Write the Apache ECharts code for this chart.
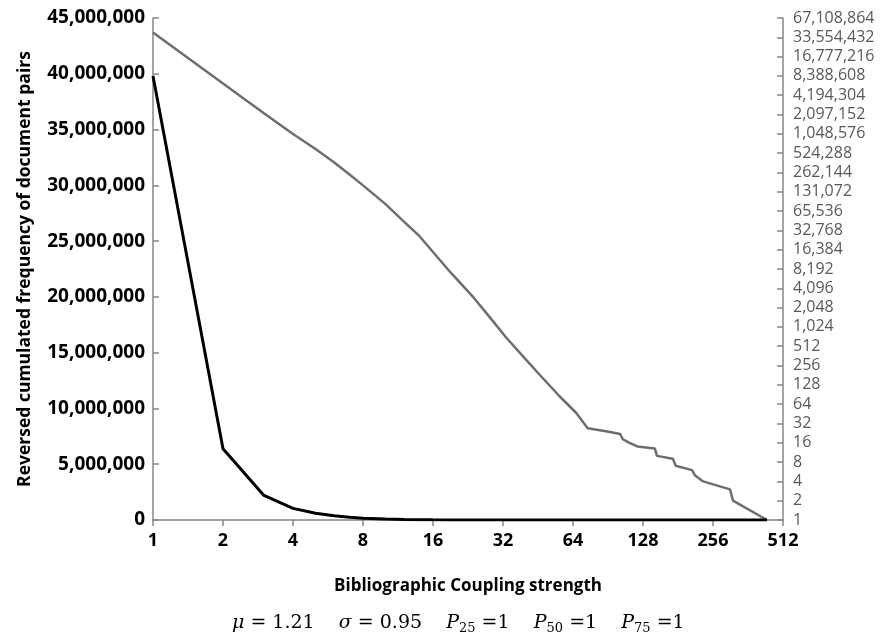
<!DOCTYPE html>
<html>
<head>
<meta charset="utf-8">
<script src="https://cdn.jsdelivr.net/npm/echarts@6/dist/echarts.min.js"></script>
<style>
html,body{margin:0;padding:0;background:#fff;}
#chart{width:888px;height:637px;}
</style>
</head>
<body>
<div id="chart"></div>
<script>
// Bibliographic coupling strength (x) and reversed cumulated frequency of document pairs
var strengths = [1, 2, 3, 4, 5, 6, 7, 8, 10, 12, 14, 16, 19, 24, 28, 33, 40, 46, 56, 66, 74, 90, 102, 105, 112, 121, 144, 147, 172, 177, 208, 214, 232, 303, 312, 437];
var counts = [39800000, 6380000, 2200000, 1040000, 610000, 379000, 243000, 165000, 84000, 45000, 26600, 15100, 7300, 2900, 1470, 700, 323, 184, 85, 47, 27, 24, 22, 18, 16, 14, 13, 10, 9, 7, 6, 5, 4, 3, 2, 1];

var xTicks = [1, 2, 4, 8, 16, 32, 64, 128, 256, 512];
var leftMax = 45000000, leftStep = 5000000;
var rightMax = 67108864;
var xTitle = 'Bibliographic Coupling strength';
var yTitle = 'Reversed cumulated frequency of document pairs';

var pairs = strengths.map(function (s, i) { return [s, counts[i]]; });
var fmt = function (v) { return Math.round(v).toLocaleString('en-US'); };
var axisGrey = '#868686';
var boldFont = '"Open Sans", "Noto Sans", sans-serif';
var mathFont = '"DejaVu Serif", "Liberation Serif", serif';

var chart = echarts.init(document.getElementById('chart'));
chart.setOption({
  animation: false,
  backgroundColor: '#fff',
  grid: { left: 153, right: 105, top: 18, bottom: 117, containLabel: false },
  xAxis: {
    type: 'log', logBase: 2, min: 1, max: 512, interval: 1,
    name: xTitle, nameLocation: 'middle', nameGap: 58,
    nameTextStyle: { fontFamily: boldFont, fontWeight: 'bold', fontSize: 17, color: '#000' },
    axisLine: { show: true, lineStyle: { color: axisGrey, width: 1.5 } },
    axisTick: { show: true, inside: false, length: 6, lineStyle: { color: axisGrey, width: 1.5 } },
    minorTick: { show: false },
    splitLine: { show: false },
    axisLabel: {
      margin: 12, fontFamily: boldFont, fontWeight: 'bold', fontSize: 18, color: '#000',
      formatter: function (v) { return String(Math.round(v)); }
    }
  },
  yAxis: [
    {
      type: 'value', min: 0, max: leftMax, interval: leftStep, position: 'left',
      name: yTitle, nameLocation: 'middle', nameGap: 119, nameRotate: 90,
      nameTextStyle: { fontFamily: boldFont, fontWeight: 'bold', fontSize: 17.5, color: '#000' },
      axisLine: { show: true, lineStyle: { color: axisGrey, width: 1.5 } },
      axisTick: { show: true, inside: true, length: 6, lineStyle: { color: axisGrey, width: 1.5 } },
      splitLine: { show: false },
      axisLabel: { margin: 8, fontFamily: boldFont, fontWeight: 'bold', fontSize: 19, color: '#000', formatter: fmt }
    },
    {
      type: 'log', logBase: 2, min: 1, max: rightMax, interval: 1, position: 'right',
      axisLine: { show: true, lineStyle: { color: axisGrey, width: 1.5 } },
      axisTick: { show: true, inside: true, length: 6, lineStyle: { color: axisGrey, width: 1.5 } },
      minorTick: { show: false },
      splitLine: { show: false },
      axisLabel: { margin: 10, fontFamily: '"Open Sans", sans-serif', fontSize: 16, color: '#595959', formatter: fmt }
    }
  ],
  series: [
    {
      type: 'line', name: 'linear', yAxisIndex: 0, data: pairs, showSymbol: false, symbol: 'none',
      lineStyle: { color: '#000', width: 3 }, z: 3
    },
    {
      type: 'line', name: 'log', yAxisIndex: 1, data: pairs, showSymbol: false, symbol: 'none',
      lineStyle: { color: '#6e6e6e', width: 2.5 }, z: 2
    }
  ],
  graphic: [
    {
      type: 'text', left: 232, top: 614,
      style: {
        text: '{i|μ} = 1.21    {i|σ} = 0.95    {i|P}{s|25} =1    {i|P}{s|50} =1    {i|P}{s|75} =1',
        fontFamily: mathFont,
        fontSize: 19, fill: '#000',
        rich: {
          i: { fontStyle: 'italic', fontFamily: mathFont, fontSize: 19, fill: '#000' },
          s: { fontFamily: mathFont, fontSize: 13, fill: '#000', padding: [10, 0, 0, 0] }
        }
      }
    }
  ]
});
</script>
</body>
</html>
